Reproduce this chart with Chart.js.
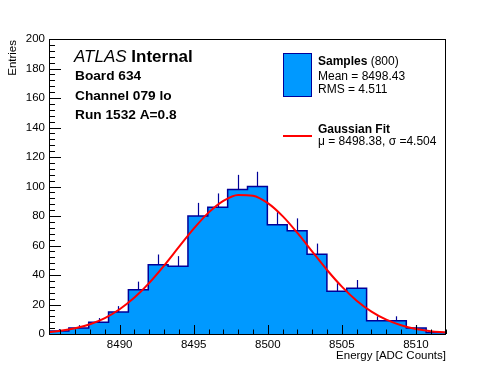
<!DOCTYPE html>
<html>
<head>
<meta charset="utf-8">
<title>Energy histogram</title>
<script src="https://cdn.jsdelivr.net/npm/chart.js"></script>
<style>
  body { margin: 0; background: #fff; }
</style>
</head>
<body>
<canvas id="myChart" width="496" height="372"></canvas>

<script>
// histogram: 20 bins starting at binLow
const binLow = 8485.23;
const binWidth = 1.34;
const counts = [2, 4, 8, 15, 30, 47, 46, 80, 86, 98, 100, 74, 70, 54, 29, 31, 9, 9, 4, 1];
const errors = [1.4, 2, 2.8, 3.9, 5.5, 6.9, 6.8, 8.9, 9.3, 9.9, 10, 8.6, 8.4, 7.3, 5.4, 5.6, 3, 3, 2, 1];

// gaussian fit curve, sampled
const fitX = [8485.23, 8486, 8487, 8488, 8489, 8490, 8491, 8492, 8493, 8494, 8495, 8496, 8497, 8498,
              8499, 8500, 8501, 8502, 8503, 8504, 8505, 8506, 8507, 8508, 8509, 8510, 8511, 8512, 8512.03];
const fitY = [1.35, 2.16, 3.89, 6.64, 10.8, 16.8, 24.7, 34.7, 46.4, 59.0, 71.4, 82.3, 90.3, 94.3,
              93.7, 88.7, 79.9, 68.5, 55.9, 43.4, 32.1, 22.6, 15.2, 9.7, 5.9, 3.4, 1.9, 1.0, 0.97];

const xTicks = [8490, 8495, 8500, 8505, 8510];
const yTicks = [0, 20, 40, 60, 80, 100, 120, 140, 160, 180, 200];

const xMax = binLow + counts.length * binWidth;
const FONT = '"Liberation Sans", Arial, Helvetica, sans-serif';

const histPoints = counts.map((c, i) => ({ x: binLow + i * binWidth, y: c }));
histPoints.push({ x: xMax, y: counts[counts.length - 1] });
const fitPoints = fitX.map((v, i) => ({ x: v, y: fitY[i] }));

// error bars (upper half only, like the reference)
const errorBars = {
  id: 'errorBars',
  afterDatasetDraw(chart, args) {
    if (args.index !== 0) return;
    const { ctx, scales: { x, y } } = chart;
    ctx.save();
    ctx.strokeStyle = '#000099';
    ctx.lineWidth = 1.2;
    counts.forEach((c, i) => {
      const px = Math.round(x.getPixelForValue(binLow + (i + 0.5) * binWidth)) + 0.5;
      ctx.beginPath();
      ctx.moveTo(px, y.getPixelForValue(c));
      ctx.lineTo(px, y.getPixelForValue(c + errors[i]));
      ctx.stroke();
    });
    ctx.restore();
  }
};

// ROOT style frame, inward ticks, titles, text and legend
const decorations = {
  id: 'decorations',
  afterDraw(chart) {
    const { ctx, chartArea: a, scales: { x, y } } = chart;
    ctx.save();
    ctx.strokeStyle = '#000';
    ctx.lineWidth = 1;
    ctx.strokeRect(Math.round(a.left) + 0.5, Math.round(a.top) + 0.5,
                   Math.round(a.right - a.left) - 1, Math.round(a.bottom - a.top));

    ctx.beginPath();
    for (let v = Math.ceil(binLow); v <= xMax; v++) {
      const px = Math.round(x.getPixelForValue(v)) + 0.5;
      const len = v % 5 === 0 ? 9 : 4.5;
      ctx.moveTo(px, a.bottom);
      ctx.lineTo(px, a.bottom - len);
    }
    for (let v = 0; v <= 200; v += 4) {
      const py = Math.round(y.getPixelForValue(v)) + 0.5;
      const len = v % 20 === 0 ? 12 : 6;
      ctx.moveTo(a.left, py);
      ctx.lineTo(a.left + len, py);
    }
    ctx.stroke();

    ctx.fillStyle = '#000';
    ctx.font = '11.5px ' + FONT;
    ctx.textBaseline = 'middle';
    ctx.textAlign = 'right';
    ctx.fillText('Energy [ADC Counts]', a.right, 355.5);
    ctx.save();
    ctx.translate(13, 40);
    ctx.rotate(-Math.PI / 2);
    ctx.fillText('Entries', 0, 0);
    ctx.restore();

    // ATLAS label block
    ctx.textAlign = 'left';
    ctx.font = 'italic 17px ' + FONT;
    ctx.fillText('ATLAS', 74, 57);
    const w = ctx.measureText('ATLAS ').width;
    ctx.font = 'bold 17px ' + FONT;
    ctx.fillText('Internal', 74 + w, 57);
    ctx.font = 'bold 13.7px ' + FONT;
    ctx.fillText('Board 634', 75, 76);
    ctx.fillText('Channel 079 lo', 75, 96);
    ctx.fillText('Run 1532 A=0.8', 75, 115);

    // legend
    ctx.fillStyle = '#0099ff';
    ctx.fillRect(283.5, 53.5, 28, 43);
    ctx.strokeStyle = '#000099';
    ctx.strokeRect(283.5, 53.5, 28, 43);
    ctx.fillStyle = '#000';
    ctx.font = 'bold 12px ' + FONT;
    ctx.fillText('Samples', 318, 61.5);
    const sw = ctx.measureText('Samples ').width;
    ctx.font = '12px ' + FONT;
    ctx.fillText('(800)', 318 + sw, 61.5);
    ctx.fillText('Mean = 8498.43', 318, 76.5);
    ctx.fillText('RMS = 4.511', 318, 90);

    ctx.strokeStyle = '#ff0000';
    ctx.lineWidth = 2;
    ctx.beginPath();
    ctx.moveTo(283, 136);
    ctx.lineTo(312, 136);
    ctx.stroke();
    ctx.font = 'bold 12px ' + FONT;
    ctx.fillText('Gaussian Fit', 318, 129.5);
    ctx.font = '12px ' + FONT;
    ctx.fillText('\u03BC = 8498.38, \u03C3 =4.504', 318, 142);
    ctx.restore();
  }
};

const ctx = document.getElementById('myChart');

new Chart(ctx, {
  type: 'line',
  data: {
    datasets: [{
      label: 'Samples',
      data: histPoints,
      stepped: 'before',
      fill: 'origin',
      backgroundColor: '#0099ff',
      borderColor: '#000099',
      borderWidth: 1.5,
      pointRadius: 0,
      order: 2
    }, {
      label: 'Gaussian Fit',
      data: fitPoints,
      borderColor: '#ff0000',
      borderWidth: 2,
      pointRadius: 0,
      fill: false,
      cubicInterpolationMode: 'monotone',
      order: 1
    }]
  },
  options: {
    responsive: false,
    animation: false,
    devicePixelRatio: 1,
    layout: { padding: { left: 0, top: 39, right: 50, bottom: 0 } },
    plugins: { legend: { display: false }, tooltip: { enabled: false } },
    scales: {
      x: {
        type: 'linear',
        min: binLow,
        max: xMax,
        grid: { display: false, drawTicks: false },
        border: { display: false },
        ticks: { color: '#000', padding: 4, font: { family: FONT, size: 11.5 }, callback: v => String(v) },
        afterBuildTicks: s => { s.ticks = xTicks.map(v => ({ value: v })); },
        afterFit: s => { s.height = 38; }
      },
      y: {
        min: 0,
        max: 200,
        grid: { display: false, drawTicks: false },
        border: { display: false },
        ticks: { color: '#000', padding: 4, font: { family: FONT, size: 11.5 }, callback: v => String(v) },
        afterBuildTicks: s => { s.ticks = yTicks.map(v => ({ value: v })); },
        afterFit: s => { s.width = 49; }
      }
    }
  },
  plugins: [errorBars, decorations]
});
</script>
</body>
</html>
